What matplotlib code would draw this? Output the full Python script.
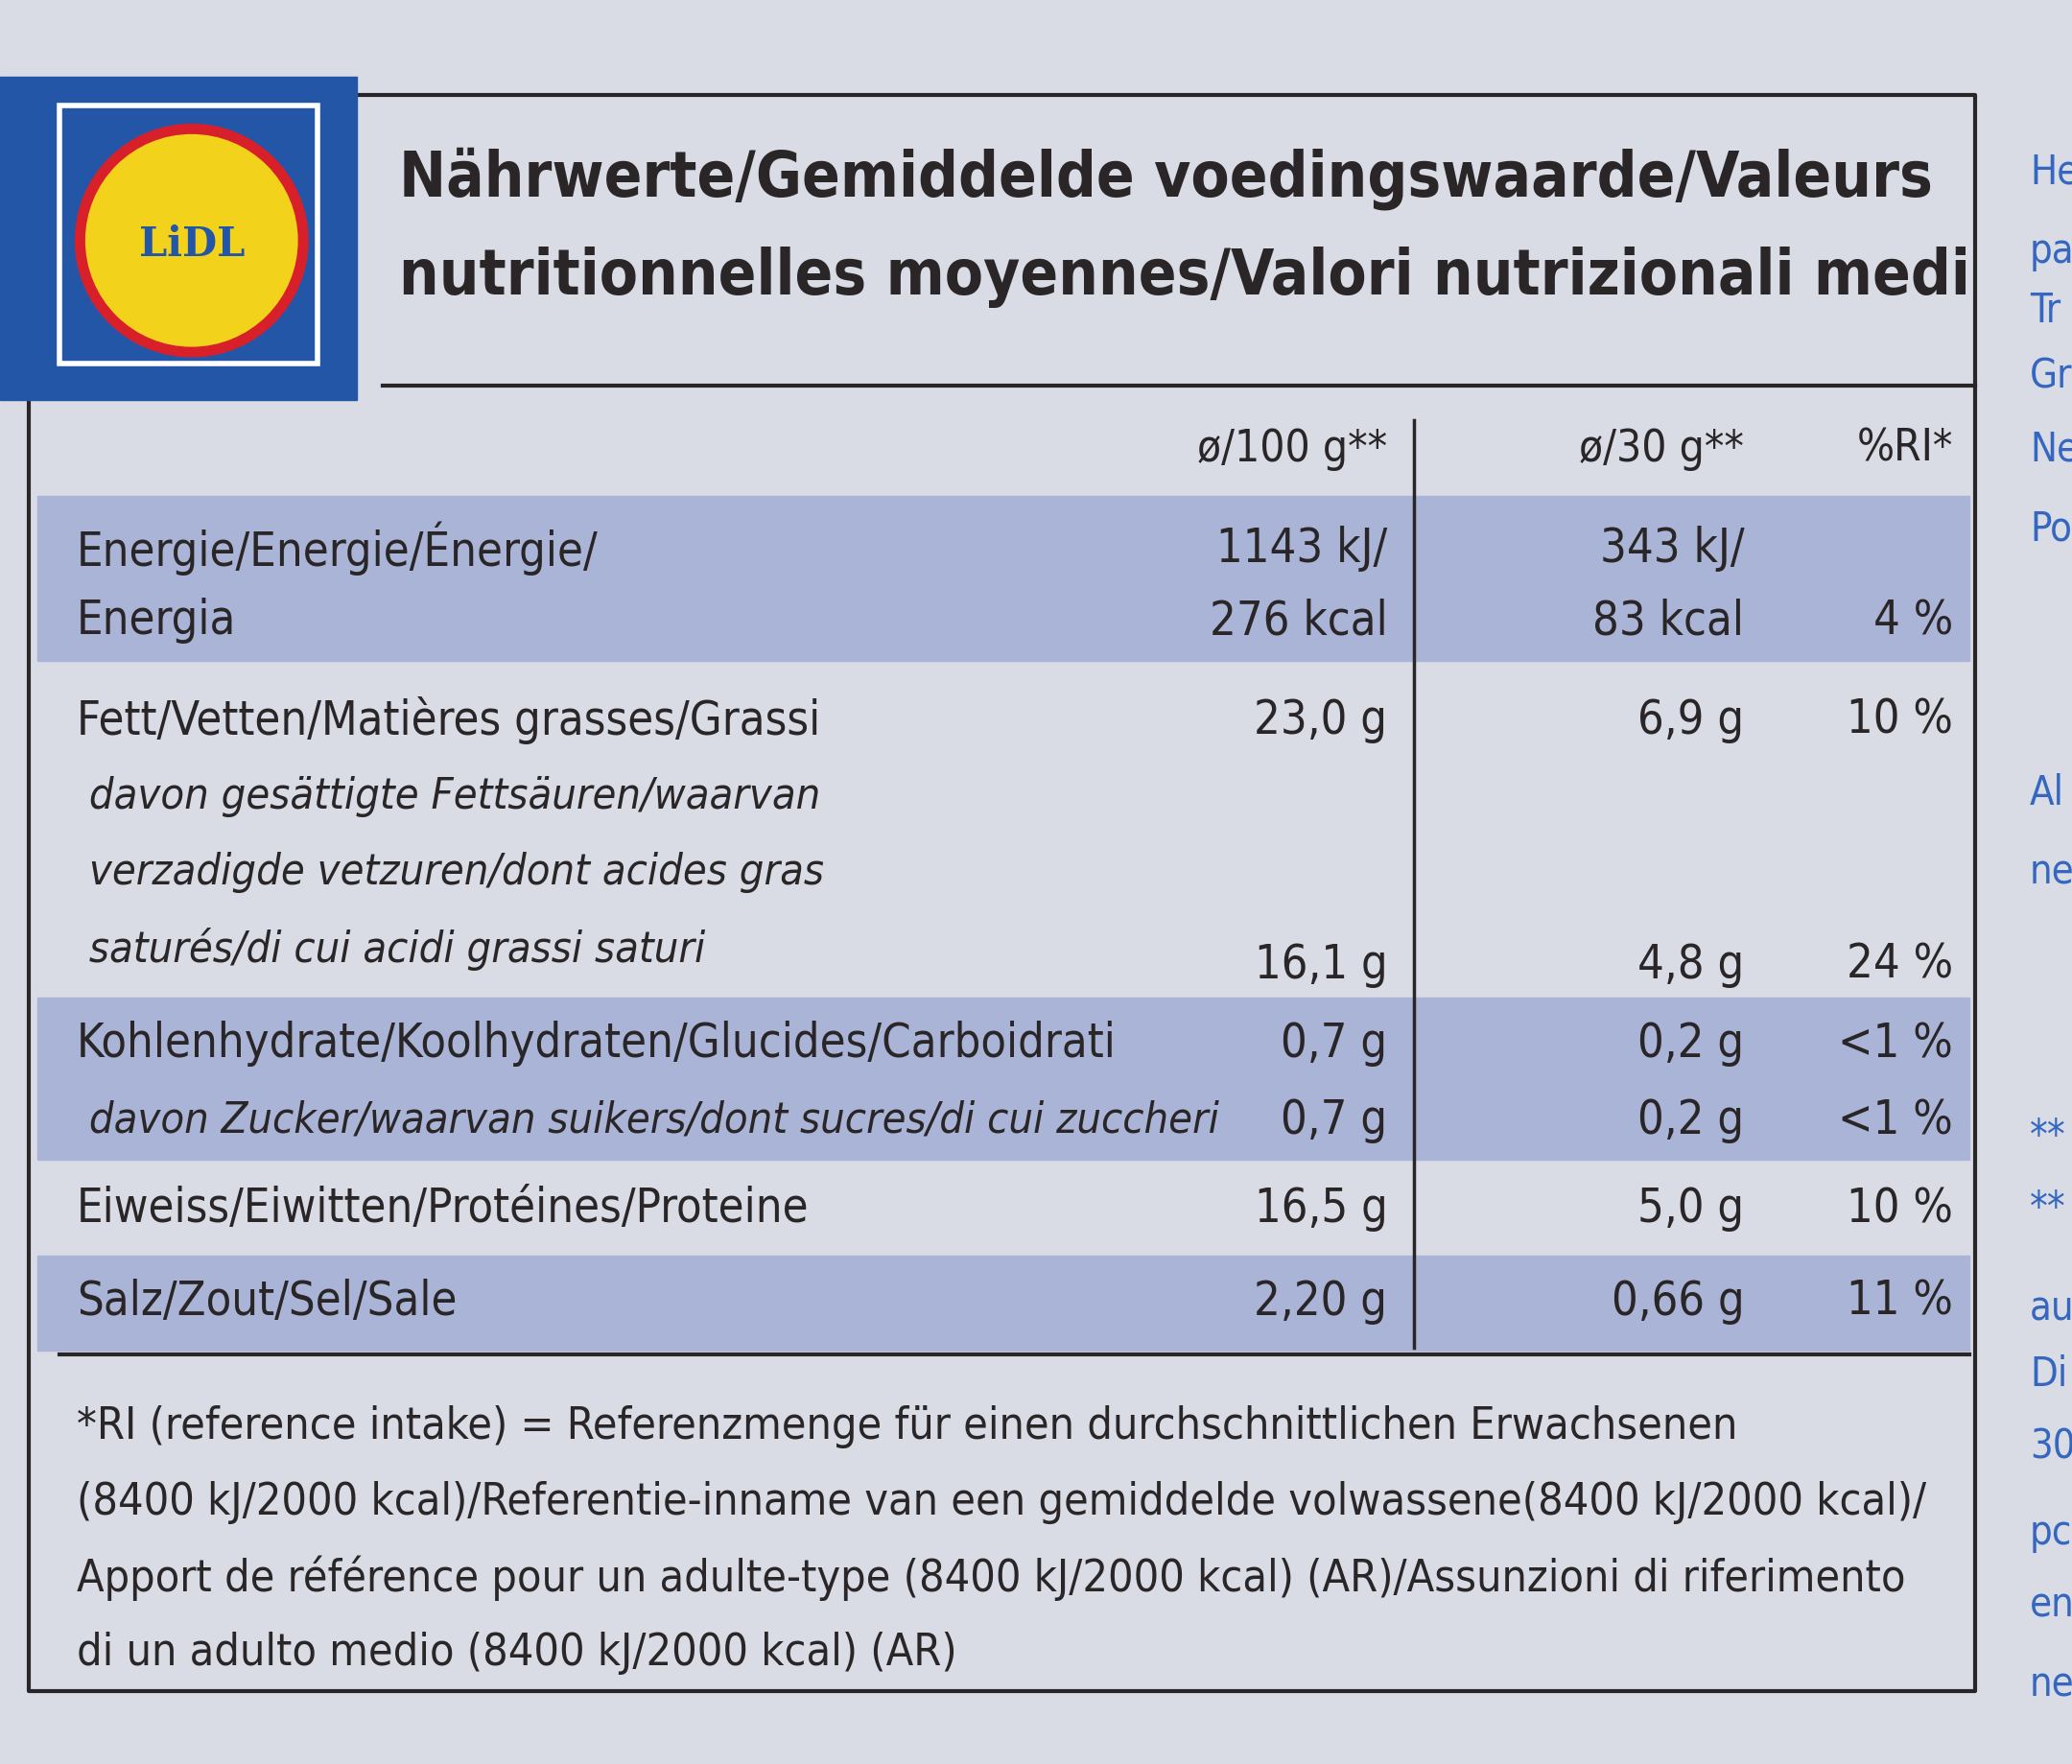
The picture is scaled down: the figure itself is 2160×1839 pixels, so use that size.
import matplotlib
matplotlib.use("Agg")
import matplotlib.pyplot as plt
from matplotlib.patches import Rectangle, Circle

FONT = ['Liberation Sans Narrow', 'DejaVu Sans']

title_lines = ["Nährwerte/Gemiddelde voedingswaarde/Valeurs",
               "nutritionnelles moyennes/Valori nutrizionali medi"]
col_heads = ["ø/100 g**", "ø/30 g**", "%RI*"]

# label lines: (text, y, italic)
labels = [
    ("Energie/Energie/Énergie/", 415, False),
    ("Energia", 470, False),
    ("Fett/Vetten/Matières grasses/Grassi", 545, False),
    (" davon gesättigte Fettsäuren/waarvan", 603, True),
    (" verzadigde vetzuren/dont acides gras", 660, True),
    (" saturés/di cui acidi grassi saturi", 718, True),
    ("Kohlenhydrate/Koolhydraten/Glucides/Carboidrati", 790, False),
    (" davon Zucker/waarvan suikers/dont sucres/di cui zuccheri", 848, True),
    ("Eiweiss/Eiwitten/Protéines/Proteine", 915, False),
    ("Salz/Zout/Sel/Sale", 985, False),
]
# value rows: (y, per100, per30, ri)
values = [
    (415, "1143 kJ/", "343 kJ/", ""),
    (470, "276 kcal", "83 kcal", "4 %"),
    (545, "23,0 g", "6,9 g", "10 %"),
    (730, "16,1 g", "4,8 g", "24 %"),
    (790, "0,7 g", "0,2 g", "<1 %"),
    (848, "0,7 g", "0,2 g", "<1 %"),
    (915, "16,5 g", "5,0 g", "10 %"),
    (985, "2,20 g", "0,66 g", "11 %"),
]
bands = [(375, 500), (755, 878), (950, 1022)]
footnote = [
    "*RI (reference intake) = Referenzmenge für einen durchschnittlichen Erwachsenen",
    "(8400 kJ/2000 kcal)/Referentie-inname van een gemiddelde volwassene(8400 kJ/2000 kcal)/",
    "Apport de référence pour un adulte-type (8400 kJ/2000 kcal) (AR)/Assunzioni di riferimento",
    "di un adulto medio (8400 kJ/2000 kcal) (AR)",
]
side_text = [("He", 130), ("pa", 190), ("Tr", 235), ("Gr", 285), ("Ne", 340), ("Po", 400),
             ("Al", 600), ("ne", 660), ("**", 860), ("**", 915), ("au", 990), ("Di", 1040),
             ("30", 1095), ("pc", 1160), ("en", 1215), ("ne", 1275)]

INK = "#2a2628"
fig = plt.figure(figsize=(21.6, 18.39), dpi=100)
fig.patch.set_facecolor("#d9dce5")
ax = fig.add_axes([0, 0, 1, 1])
ax.set_xlim(0, 1568)
ax.set_ylim(1335, 0)
ax.axis("off")

# table frame
ax.plot([270, 1495, 1495, 22, 22], [72, 72, 1280, 1280, 300], color=INK, lw=3)
for y0, y1 in bands:
    ax.add_patch(Rectangle((28, y0), 1462, y1 - y0, color="#a9b4d6", zorder=0))
ax.plot([290, 1495], [292, 292], color=INK, lw=3)
ax.plot([1070, 1070], [318, 1020], color=INK, lw=2.5)
ax.plot([45, 1490], [1025, 1025], color=INK, lw=3)

# logo
ax.add_patch(Rectangle((0, 58), 270, 245, color="#2456a8", zorder=2))
ax.add_patch(Rectangle((45, 80), 195, 195, facecolor="#2456a8", edgecolor="white", lw=4, zorder=3))
ax.add_patch(Circle((145, 182), 88, color="#d8202a", zorder=4))
ax.add_patch(Circle((145, 182), 80, color="#f2d21a", zorder=5))
ax.text(145, 185, "LiDL", ha="center", va="center", fontsize=30, fontweight="bold",
        color="#2456a8", family="DejaVu Serif", zorder=6)

cond = dict(family=FONT, fontstretch="condensed", color=INK)

for i, t in enumerate(title_lines):
    ax.text(302, 135 + 75 * i, t, ha="left", va="center", fontsize=47, fontweight="bold", **cond)

for x, t in zip([1050, 1320, 1478], col_heads):
    ax.text(x, 340, t, ha="right", va="center", fontsize=33, **cond)

for t, y, it in labels:
    ax.text(58, y, t, ha="left", va="center", fontsize=32.4 if it else 35,
            style="italic" if it else "normal", **cond)
for y, a, b, c in values:
    for x, t in zip([1050, 1320, 1478], [a, b, c]):
        ax.text(x, y, t, ha="right", va="center", fontsize=35, **cond)

for i, t in enumerate(footnote):
    ax.text(58, 1080 + 57 * i, t, ha="left", va="center", fontsize=33.5, **cond)

for t, y in side_text:
    ax.text(1536, y, t, ha="left", va="center", fontsize=30, color="#3567c0", family=FONT,
            fontstretch="condensed")

fig.savefig("out.png", dpi=100, facecolor=fig.get_facecolor())
